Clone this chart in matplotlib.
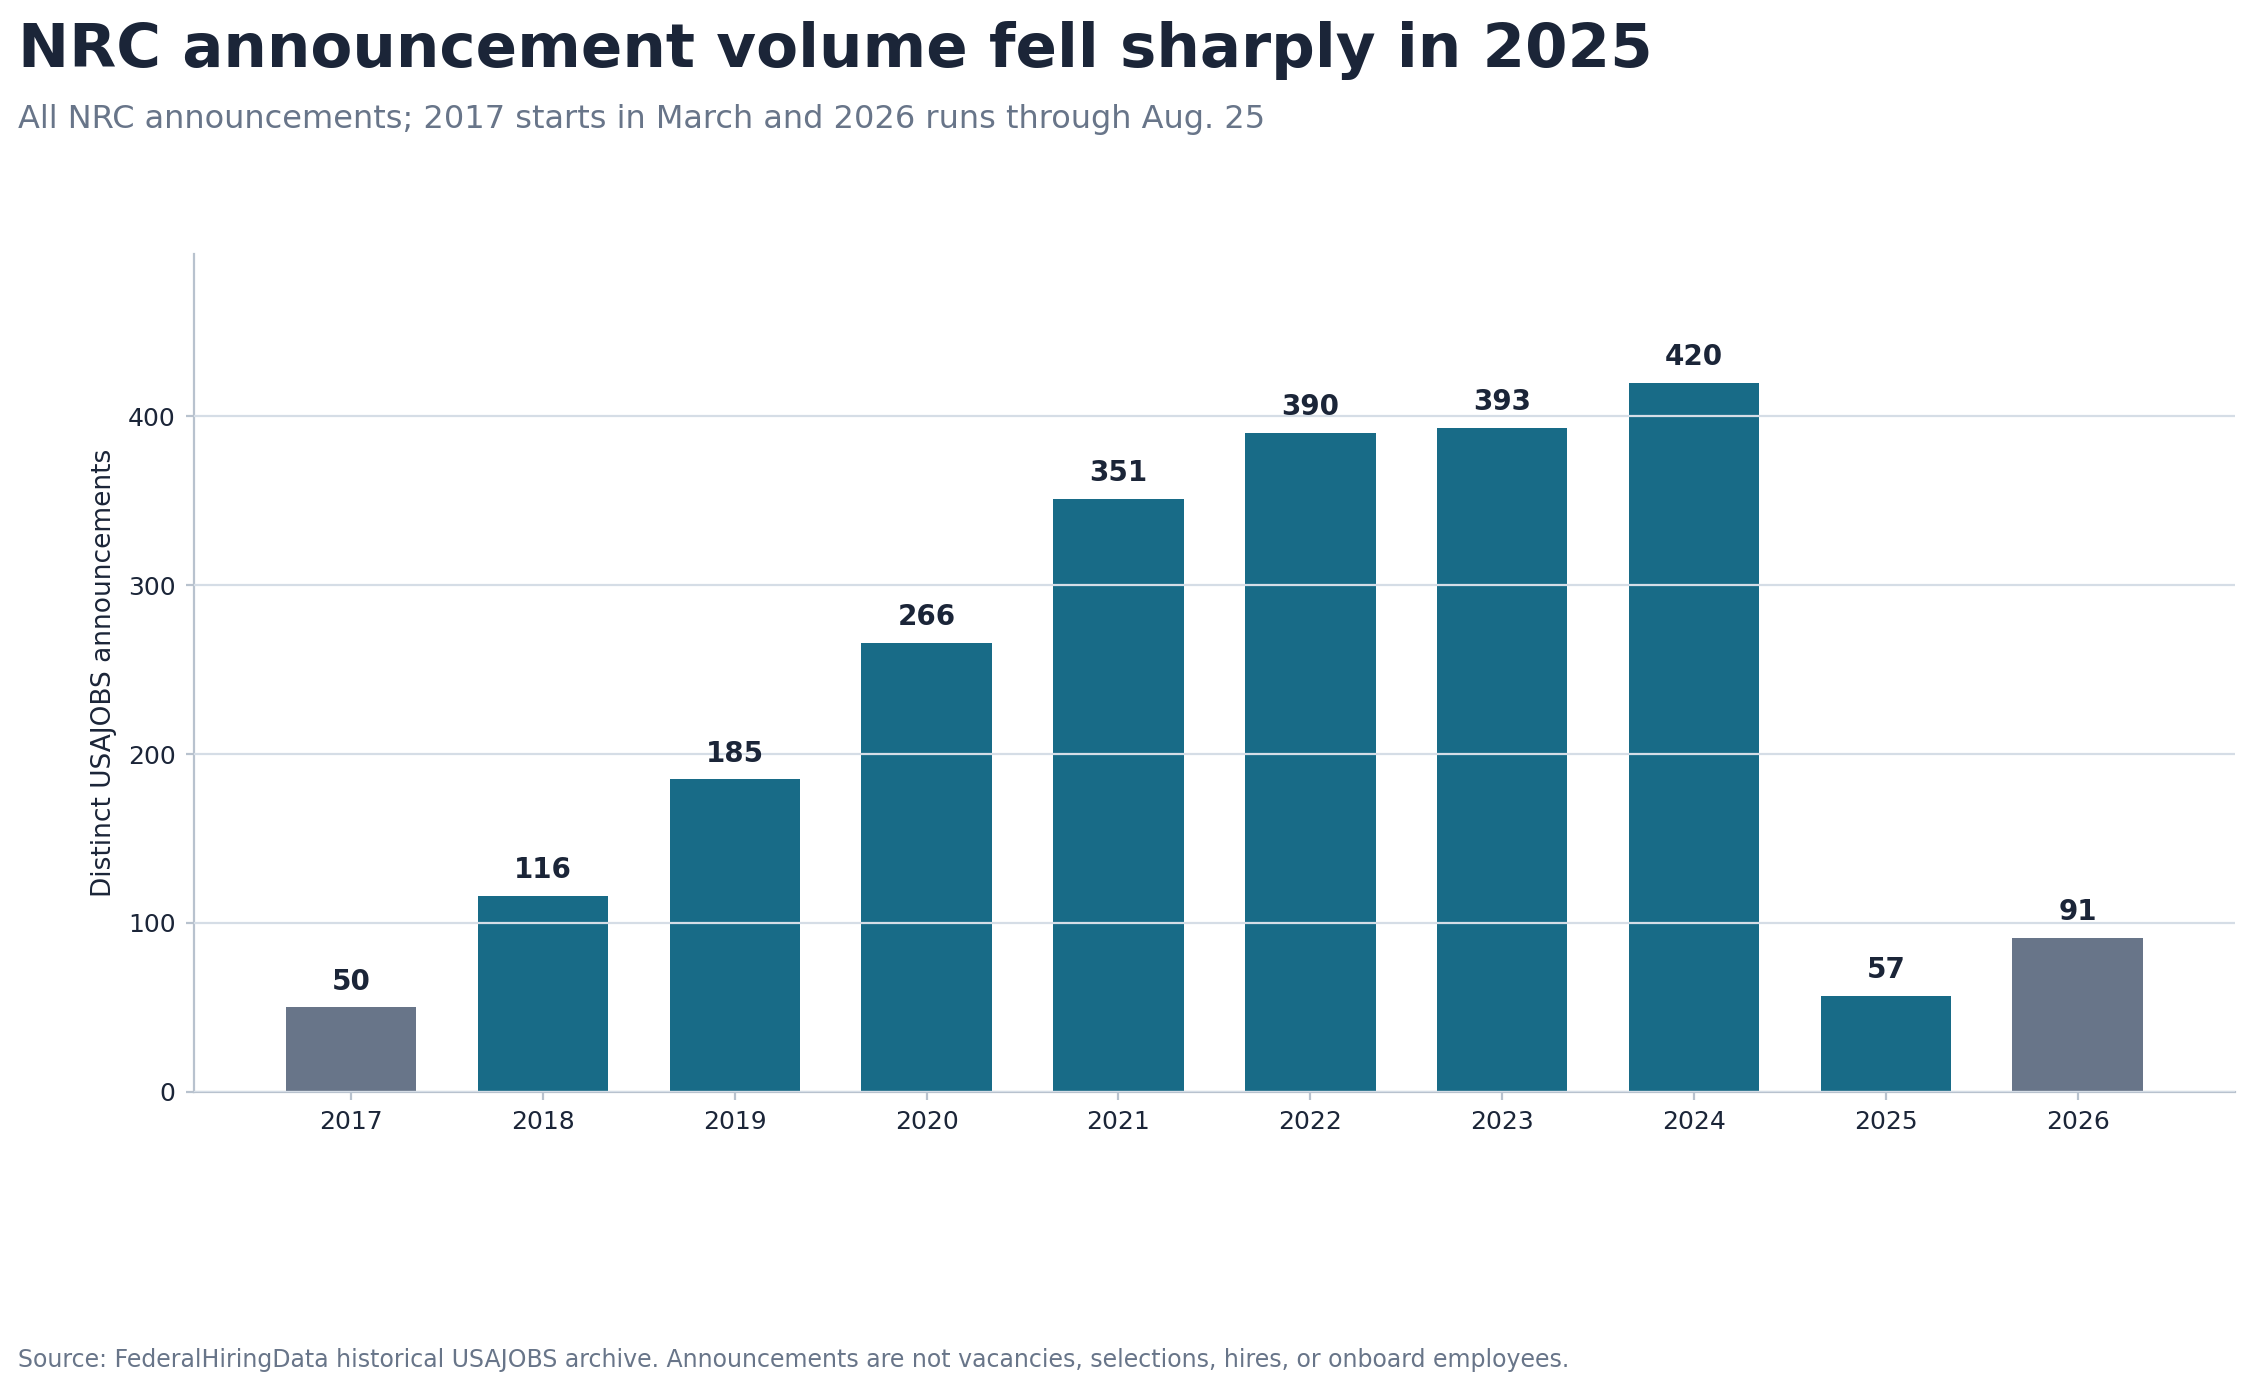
import matplotlib
matplotlib.use("Agg")
import matplotlib.pyplot as plt

YEARS = ["2017", "2018", "2019", "2020", "2021", "2022", "2023", "2024", "2025", "2026"]
COUNTS = [50, 116, 185, 266, 351, 390, 393, 420, 57, 91]
PARTIAL = [True, False, False, False, False, False, False, False, False, True]

TEAL = "#186b87"
GRAY = "#687589"
DARK = "#1b2538"

fig = plt.figure(figsize=(2253 / 200, 1389 / 200), dpi=200)
ax = fig.add_axes([0.086, 0.214, 0.906, 0.603])

x = range(len(YEARS))
colors = [GRAY if p else TEAL for p in PARTIAL]
bars = ax.bar(x, COUNTS, width=0.68, color=colors, zorder=1)
for xi, v in zip(x, COUNTS):
    ax.text(xi, v + 7, str(v), ha="center", va="bottom", fontsize=10,
            fontweight="bold", color=DARK)

ax.set_xticks(list(x))
ax.set_xticklabels(YEARS)
ax.set_xlim(-0.82, 9.82)
ax.set_ylim(0, 496)
ax.set_yticks([0, 100, 200, 300, 400])
ax.grid(axis="y", color="#d5dde6", linewidth=0.8, zorder=2)
ax.set_axisbelow(False)
ax.tick_params(labelsize=9, colors=DARK, length=3)
ax.tick_params(axis="both", color="#b8c2ce")
for s in ["top", "right"]:
    ax.spines[s].set_visible(False)
for s in ["left", "bottom"]:
    ax.spines[s].set_color("#b8c2ce")
ax.set_ylabel("Distinct USAJOBS announcements", fontsize=9.5, color=DARK)

fig.text(0.008, 0.985, "NRC announcement volume fell sharply in 2025", fontsize=22,
         fontweight="bold", color=DARK, va="top")
fig.text(0.008, 0.925, "All NRC announcements; 2017 starts in March and 2026 runs through Aug. 25",
         fontsize=11.5, color=GRAY, va="top")
fig.text(0.008, 0.012, "Source: FederalHiringData historical USAJOBS archive. Announcements are not "
         "vacancies, selections, hires, or onboard employees.", fontsize=8.5, color=GRAY,
         va="bottom")

fig.savefig("out.png", dpi=200)
